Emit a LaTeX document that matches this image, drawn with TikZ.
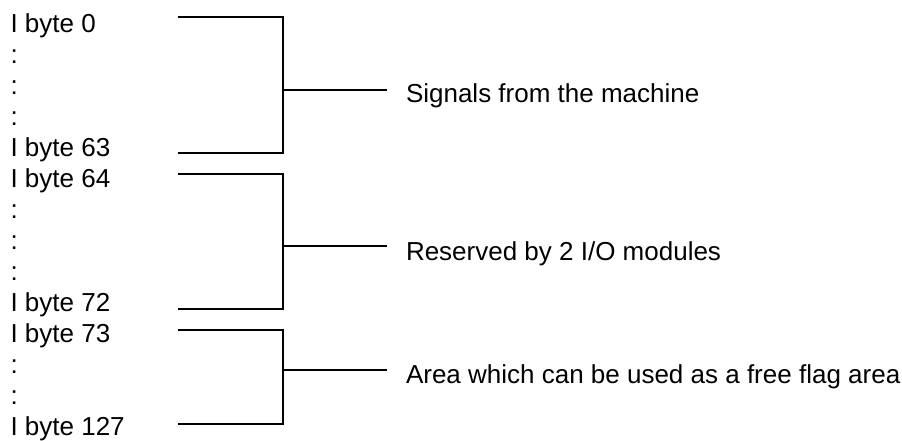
\documentclass[tikz,border=0pt]{standalone}
\usepackage{fontspec}
\setmainfont{Liberation Sans}
\begin{document}
\begin{tikzpicture}[x=1pt,y=-1pt,
  lbl/.style={anchor=base west,inner sep=0pt,outer sep=0pt,font=\fontsize{26}{31}\selectfont},
  brk/.style={draw=black,line width=1.8pt}]
\useasboundingbox (0,0) rectangle (902,440);
% left column
\node[lbl] (b0) at (10.5,32) {I byte 0};
\node[lbl] (d1) at (10.5,63) {:};
\node[lbl] (d2) at (10.5,94) {:};
\node[lbl] (d3) at (10.5,125) {:};
\node[lbl] (b63) at (10.5,156) {I byte 63};
\node[lbl] (b64) at (10.5,187) {I byte 64};
\node[lbl] (d4) at (10.5,218) {:};
\node[lbl] (d5) at (10.5,249) {:};
\node[lbl] (d6) at (10.5,280) {:};
\node[lbl] (b72) at (10.5,311) {I byte 72};
\node[lbl] (b73) at (10.5,342) {I byte 73};
\node[lbl] (d7) at (10.5,373) {:};
\node[lbl] (d8) at (10.5,404) {:};
\node[lbl] (b127) at (10.5,435) {I byte 127};
% right labels
\node[lbl] (s1) at (406,102) {Signals from the machine};
\node[lbl] (s2) at (406,260) {Reserved by 2 I/O modules};
\node[lbl] (s3) at (406,383) {Area which can be used as a free flag area};
% bracket coordinates
\coordinate (t1) at (178,17);  \coordinate (tc1) at (283,17);
\coordinate (u1) at (178,153); \coordinate (uc1) at (283,153);
\coordinate (m1) at (283,90);  \coordinate (e1) at (387,90);
\coordinate (t2) at (178,174); \coordinate (tc2) at (283,174);
\coordinate (u2) at (178,309); \coordinate (uc2) at (283,309);
\coordinate (m2) at (283,246); \coordinate (e2) at (387,246);
\coordinate (t3) at (178,330); \coordinate (tc3) at (283,330);
\coordinate (u3) at (178,424); \coordinate (uc3) at (283,424);
\coordinate (m3) at (283,370); \coordinate (e3) at (387,370);
% brackets
\draw[brk] (t1) -- (tc1) -- (uc1) -- (u1);
\draw[brk] (m1) -- (e1);
\draw[brk] (t2) -- (tc2) -- (uc2) -- (u2);
\draw[brk] (m2) -- (e2);
\draw[brk] (t3) -- (tc3) -- (uc3) -- (u3);
\draw[brk] (m3) -- (e3);
\end{tikzpicture}
\end{document}
